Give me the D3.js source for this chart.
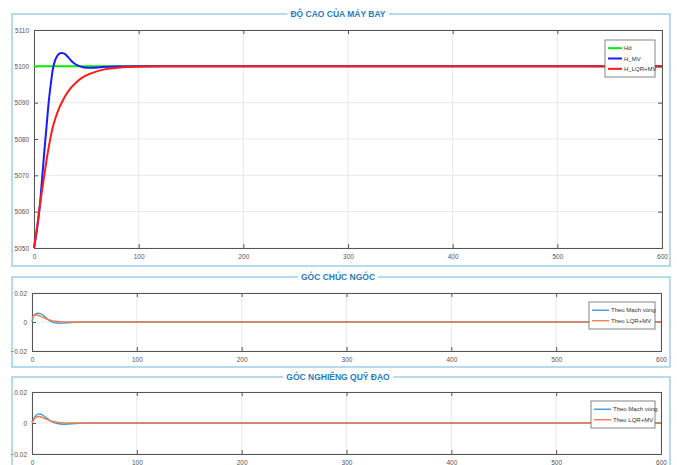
<!DOCTYPE html>
<html>
<head>
<meta charset="utf-8">
<script src="https://cdn.jsdelivr.net/npm/d3@7"></script>
<style>
  body { margin: 0; background: #fff; }
  .tick text { font-family: "Liberation Sans", Arial, sans-serif; font-size: 6.5px; fill: #555; }
  .panelTitle { font-family: "Liberation Sans Narrow", "Liberation Sans", sans-serif; font-weight: bold; font-size: 8.5px; fill: #1f7cc0; }
  .legText { font-family: "Liberation Sans Narrow", "Liberation Sans", sans-serif; font-size: 6px; fill: #333; }
</style>
</head>
<body>
<div id="chart"></div>
<script>
// Data
var xTicks = [0, 100, 200, 300, 400, 500, 600];

// Panel 1 - altitude
var hTime = [0, 2, 4, 6, 8, 10, 12, 14, 16, 18, 20, 22, 25, 27, 30, 33, 36, 40, 44, 48, 55, 65, 80, 100, 600];
var hMV   = [5050, 5053.5, 5057.5, 5063, 5070, 5077, 5083.5, 5090, 5095, 5099.2, 5101.5, 5102.8, 5103.6, 5103.7, 5103.3, 5102.4, 5101.4, 5100.5, 5100, 5099.7, 5099.6, 5099.8, 5099.95, 5100, 5100];
var lqrTime = [0, 3, 6, 9, 12, 15, 18, 21, 24, 27, 30, 35, 40, 45, 50, 60, 70, 80, 90, 100, 120, 600];
var hLQR  = [5050, 5056, 5062.5, 5068.5, 5074.2, 5079.2, 5083.3, 5086.2, 5088.5, 5090.3, 5091.9, 5094, 5095.5, 5096.7, 5097.5, 5098.6, 5099.3, 5099.6, 5099.8, 5099.9, 5100, 5100];
var hdTime = [0, 600];
var hd = [5100, 5100];
var hTicks = [5050, 5060, 5070, 5080, 5090, 5100, 5110];
var hNames = ["Hd", "H_MV", "H_LQR+MV"];

// Panel 2 - pitch angle
var pTimeA = [0, 1, 2, 4, 6, 8, 10, 12, 14, 16, 18, 20, 24, 28, 32, 38, 45, 55, 600];
var pitchMV = [0, 0.003, 0.0045, 0.0057, 0.006, 0.0058, 0.005, 0.0038, 0.0025, 0.0013, 0.0004, -0.0002, -0.0007, -0.0008, -0.0006, -0.0003, -0.0001, 0, 0];
var pTimeB = [0, 1, 2, 4, 6, 8, 10, 13, 16, 20, 25, 30, 40, 600];
var pitchLQR = [0.0025, 0.0038, 0.0045, 0.0048, 0.0045, 0.004, 0.0033, 0.0024, 0.0016, 0.0008, 0.0003, 0.0001, 0, 0];

// Panel 3 - flight path angle
var gTimeA = [0, 2, 4, 6, 8, 10, 12, 15, 18, 21, 25, 30, 35, 42, 50, 60, 600];
var gammaMV = [0, 0.003, 0.005, 0.0057, 0.0058, 0.0052, 0.0042, 0.0027, 0.0012, 0.0002, -0.0005, -0.0008, -0.0006, -0.0003, -0.0001, 0, 0];
var gTimeB = [0, 2, 4, 6, 8, 10, 13, 16, 20, 25, 30, 40, 600];
var gammaLQR = [0, 0.0025, 0.0038, 0.0042, 0.004, 0.0035, 0.0026, 0.0018, 0.001, 0.0004, 0.0001, 0, 0];

var angTicks = [-0.02, 0, 0.02];
var angNames = ["Theo Mạch vòng", "Theo LQR+MV"];

var svg = d3.select("#chart").append("svg")
  .attr("width", 677)
  .attr("height", 465);

function zip(t, v) {
  return t.map((d, i) => ({ t: d, v: v[i] }));
}

// group box with the title in the top border
function drawBox(y0, y1, title) {
  svg.append("rect")
    .attr("x", 12).attr("y", y0)
    .attr("width", 658).attr("height", y1 - y0)
    .attr("fill", "none")
    .attr("stroke", "#86c3e3")
    .attr("stroke-width", 1.2);
  var t = svg.append("text")
    .attr("class", "panelTitle")
    .attr("x", 338).attr("y", y0 + 3)
    .attr("text-anchor", "middle")
    .text(title);
  var bb = t.node().getBBox();
  svg.append("rect")
    .attr("x", bb.x - 3).attr("y", y0 - 2)
    .attr("width", bb.width + 6).attr("height", 4)
    .attr("fill", "#fff");
  t.raise();
}

function drawPlot(opt) {
  var g = svg.append("g")
    .attr("transform", `translate(${opt.left}, ${opt.top})`);
  var w = opt.right - opt.left;
  var h = opt.bottom - opt.top;

  var x = d3.scaleLinear().domain([0, 600]).range([0, w]);
  var y = d3.scaleLinear().domain(opt.yDomain).range([h, 0]);

  // grid
  g.append("g")
    .selectAll("line").data(xTicks).enter().append("line")
    .attr("x1", d => x(d)).attr("x2", d => x(d))
    .attr("y1", 0).attr("y2", h)
    .attr("stroke", "#e8e8e8");
  g.append("g")
    .selectAll("line").data(opt.yTicks).enter().append("line")
    .attr("x1", 0).attr("x2", w)
    .attr("y1", d => y(d)).attr("y2", d => y(d))
    .attr("stroke", "#e8e8e8");

  // axes, ticks pointing inward like matlab
  var bottomAxis = d3.axisBottom(x).tickValues(xTicks).tickSize(-4).tickPadding(6).tickFormat(d3.format("d"));
  var leftAxis = d3.axisLeft(y).tickValues(opt.yTicks).tickSize(-4).tickPadding(5).tickFormat(opt.yFormat);
  var topAxis = d3.axisTop(x).tickValues(xTicks).tickSize(-4).tickFormat("");
  var rightAxis = d3.axisRight(y).tickValues(opt.yTicks).tickSize(-4).tickFormat("");

  [ [bottomAxis, `translate(0, ${h})`], [leftAxis, null], [topAxis, null], [rightAxis, `translate(${w}, 0)`] ]
    .forEach(a => {
      var ax = g.append("g").call(a[0]);
      if (a[1]) ax.attr("transform", a[1]);
      ax.select(".domain").attr("stroke", "#555").attr("stroke-width", 1);
      ax.selectAll(".tick line").attr("stroke", "#555");
    });

  // series on top of the axes
  var line = d3.line()
    .x(d => x(d.t))
    .y(d => y(d.v))
    .curve(d3.curveMonotoneX);
  opt.series.forEach(s => {
    g.append("path")
      .datum(zip(s.t, s.v))
      .attr("fill", "none")
      .attr("stroke", s.color)
      .attr("stroke-width", opt.lw)
      .attr("d", line);
  });

  // legend
  var lg = g.append("g")
    .attr("transform", `translate(${opt.legend.x - opt.left}, ${opt.legend.y - opt.top})`);
  lg.append("rect")
    .attr("width", opt.legend.w).attr("height", opt.legend.h)
    .attr("fill", "#fff")
    .attr("stroke", "#666")
    .attr("stroke-width", 0.8);
  var rowH = (opt.legend.h - 6) / opt.series.length;
  opt.series.forEach((s, i) => {
    var yy = 3 + rowH * (i + 0.5);
    lg.append("line")
      .attr("x1", 3).attr("x2", 3 + opt.legend.lineLen)
      .attr("y1", yy).attr("y2", yy)
      .attr("stroke", s.color)
      .attr("stroke-width", opt.lw);
    lg.append("text")
      .attr("class", "legText")
      .attr("x", 5 + opt.legend.lineLen)
      .attr("y", yy + 2)
      .text(opt.names[i]);
  });
}

// Panel 1
drawBox(14, 266, "ĐỘ CAO CỦA MÁY BAY");
drawPlot({
  left: 34, right: 662, top: 30, bottom: 248,
  yDomain: [5050, 5110], yTicks: hTicks, yFormat: d3.format("d"),
  lw: 2,
  series: [
    { t: hdTime, v: hd, color: "#00ee00" },
    { t: hTime, v: hMV, color: "#1a1aff" },
    { t: lqrTime, v: hLQR, color: "#ff1a1a" }
  ],
  names: hNames,
  legend: { x: 605, y: 40, w: 50, h: 37, lineLen: 14 }
});

// Panel 2
drawBox(277, 367, "GÓC CHÚC NGÓC");
drawPlot({
  left: 32, right: 661, top: 293, bottom: 351,
  yDomain: [-0.02, 0.02], yTicks: angTicks, yFormat: d => d === 0 ? "0" : d3.format(".2f")(d),
  lw: 1.4,
  series: [
    { t: pTimeA, v: pitchMV, color: "#3d9bdc" },
    { t: pTimeB, v: pitchLQR, color: "#f07d48" }
  ],
  names: angNames,
  legend: { x: 589, y: 302, w: 66, h: 27, lineLen: 17 }
});

// Panel 3
drawBox(377, 480, "GÓC NGHIÊNG QUỸ ĐẠO");
drawPlot({
  left: 32, right: 661, top: 392, bottom: 454,
  yDomain: [-0.02, 0.02], yTicks: angTicks, yFormat: d => d === 0 ? "0" : d3.format(".2f")(d),
  lw: 1.4,
  series: [
    { t: gTimeA, v: gammaMV, color: "#3d9bdc" },
    { t: gTimeB, v: gammaLQR, color: "#f07d48" }
  ],
  names: angNames,
  legend: { x: 591, y: 401, w: 64, h: 27, lineLen: 17 }
});
</script>
</body>
</html>
